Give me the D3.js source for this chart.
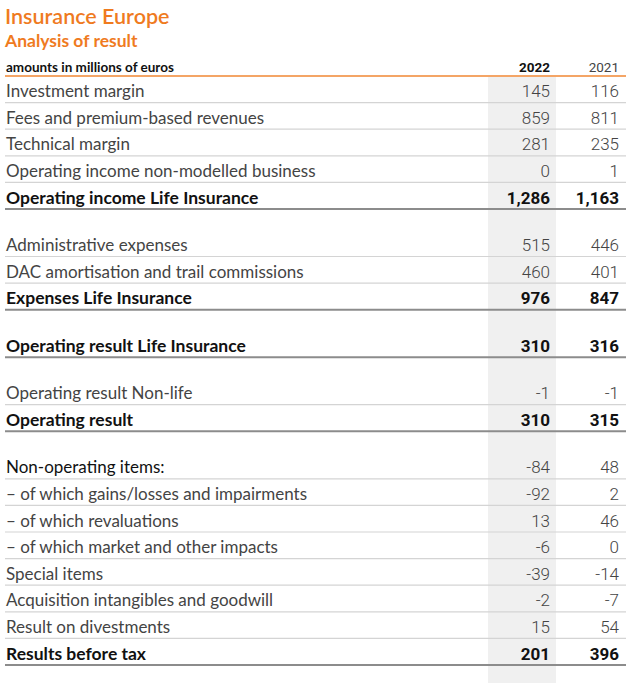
<!DOCTYPE html>
<html>
<head>
<meta charset="utf-8">
<script src="https://cdn.jsdelivr.net/npm/d3@7"></script>
<style>
  html, body { margin: 0; padding: 0; background: #fff; }
  svg { display: block; }
</style>
</head>
<body>
<svg id="chart" width="640" height="683"></svg>
<script>
const title = "Insurance Europe";
const subtitle = "Analysis of result";
const unitLabel = "amounts in millions of euros";
const years = ["2022", "2021"];

// "" marks a spacer row
const labels = [
  "Investment margin",
  "Fees and premium-based revenues",
  "Technical margin",
  "Operating income non-modelled business",
  "Operating income Life Insurance",
  "",
  "Administrative expenses",
  "DAC amortisation and trail commissions",
  "Expenses Life Insurance",
  "",
  "Operating result Life Insurance",
  "",
  "Operating result Non-life",
  "Operating result",
  "",
  "Non-operating items:",
  "\u2013 of which gains/losses and impairments",
  "\u2013 of which revaluations",
  "\u2013 of which market and other impacts",
  "Special items",
  "Acquisition intangibles and goodwill",
  "Result on divestments",
  "Results before tax"
];
const values2022 = [145, 859, 281, 0, 1286, null, 515, 460, 976, null, 310, null, -1, 310, null, -84, -92, 13, -6, -39, -2, 15, 201];
const values2021 = [116, 811, 235, 1, 1163, null, 446, 401, 847, null, 316, null, -1, 315, null, 48, 2, 46, 0, -14, -7, 54, 396];
const totalRows = [
  "Operating income Life Insurance",
  "Expenses Life Insurance",
  "Operating result Life Insurance",
  "Operating result",
  "Results before tax"
];
const headingRows = ["Non-operating items:"];

const svg = d3.select("#chart");
const W = 640, H = 683;
const orange = "#ef7b1f";
const left = 5, right = 626;
const tableTop = 76;
const rowH = 26.6, spacerH = 20.9;

const colScale = d3.scaleOrdinal().domain(years).range([550, 619]);
const shadeX0 = 488, shadeX1 = 556;

const rows = [];
let y = tableTop;
labels.forEach((l, i) => {
  const h = l === "" ? spacerH : rowH;
  rows.push({label: l, v22: values2022[i], v21: values2021[i], y0: y, y1: y + h, spacer: l === ""});
  y += h;
});

const fmt = d3.format(",d");
const fmtNum = v => v < 0 ? "-" + fmt(-v) : fmt(v);

svg.append("rect")
  .attr("x", shadeX0).attr("y", tableTop + 1)
  .attr("width", shadeX1 - shadeX0).attr("height", H - tableTop - 1)
  .attr("fill", "#f0f0f0");

svg.append("text").attr("x", 5).attr("y", 24)
  .attr("font-family", "Lato, 'Open Sans', sans-serif")
  .attr("font-size", 21.5).attr("font-weight", 600)
  .attr("fill", orange).text(title);
svg.append("text").attr("x", 5).attr("y", 47)
  .attr("font-family", "Lato, 'Open Sans', sans-serif")
  .attr("font-size", 17.5).attr("font-weight", 700)
  .attr("fill", orange).text(subtitle);

svg.append("text").attr("x", 6).attr("y", 71.5)
  .attr("font-family", "Lato, sans-serif")
  .attr("font-size", 13.5).attr("font-weight", 700)
  .attr("fill", "#111").text(unitLabel);
svg.selectAll("text.year").data(years).join("text")
  .attr("class", "year")
  .attr("x", d => colScale(d)).attr("y", 71.5)
  .attr("text-anchor", "end")
  .attr("font-family", "Roboto, sans-serif")
  .attr("font-size", 13.5)
  .attr("font-weight", (d, i) => i === 0 ? 700 : 400)
  .attr("fill", (d, i) => i === 0 ? "#111" : "#444")
  .text(d => d);

svg.append("line").attr("x1", left).attr("x2", right)
  .attr("y1", tableTop).attr("y2", tableTop)
  .attr("stroke", "#f4a566").attr("stroke-width", 2);

const dataRows = rows.filter(r => !r.spacer);
const g = svg.append("g");

dataRows.forEach(r => {
  const isTotal = totalRows.includes(r.label);
  const isHeading = headingRows.includes(r.label);
  const base = r.y1 - 5.5;
  g.append("text").attr("x", 6).attr("y", base)
    .attr("font-family", "Lato, sans-serif")
    .attr("font-size", isTotal ? 17.5 : 17)
    .attr("font-weight", isTotal ? 700 : 400)
    .attr("fill", isTotal || isHeading ? "#111" : "#444")
    .text(r.label);
  [[years[0], r.v22], [years[1], r.v21]].forEach(([yr, v]) => {
    g.append("text").attr("x", colScale(yr)).attr("y", base)
      .attr("text-anchor", "end")
      .attr("font-family", "Roboto, sans-serif")
      .attr("font-size", 17)
      .attr("font-weight", isTotal ? 700 : 300)
      .attr("fill", isTotal ? "#111" : "#444")
      .text(fmtNum(v));
  });
  g.append("line").attr("x1", left).attr("x2", right)
    .attr("y1", r.y1).attr("y2", r.y1)
    .attr("stroke", isTotal ? "#8c8c8c" : "#d4d4d4")
    .attr("stroke-width", isTotal ? 2 : 1.2);
});
</script>
</body>
</html>
